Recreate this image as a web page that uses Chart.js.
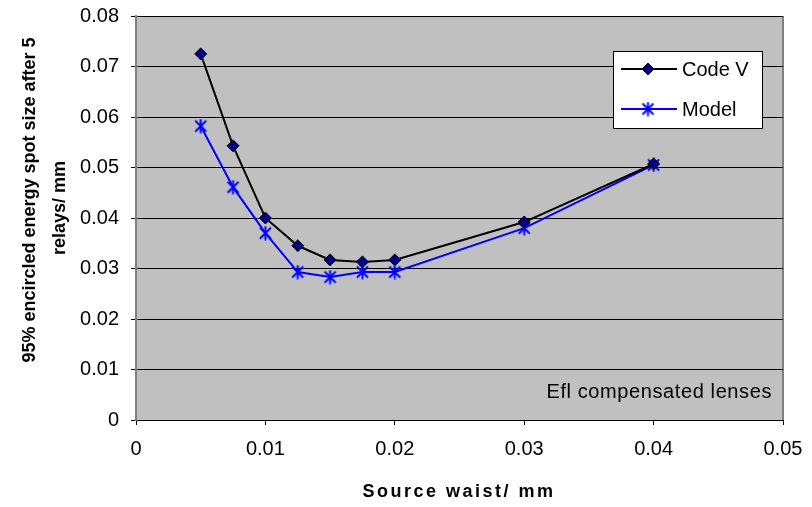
<!DOCTYPE html>
<html>
<head>
<meta charset="utf-8">
<script src="https://cdn.jsdelivr.net/npm/chart.js@4.4.1/dist/chart.umd.min.js"></script>
<style>
  html, body { margin: 0; padding: 0; background: #fff; }
  #wrap { width: 812px; height: 507px; }
</style>
</head>
<body>
<div id="wrap"><canvas id="chart"></canvas></div>
<script>
// source waist (mm) and spot size (mm)
const waist = [0.005, 0.0075, 0.01, 0.0125, 0.015, 0.0175, 0.02, 0.03, 0.04];
const codeV = [0.0725, 0.0543, 0.0400, 0.0345, 0.0317, 0.0313, 0.0317, 0.0392, 0.0507];
const model = [0.0582, 0.0461, 0.0370, 0.0293, 0.0283, 0.0293, 0.0293, 0.0380, 0.0505];
const seriesNames = ['Code V', 'Model'];

const FONT = '"Liberation Sans", Arial, sans-serif';

// asterisk marker for the model series
function makeAsterisk(size, color) {
  const c = document.createElement('canvas');
  c.width = size; c.height = size;
  const g = c.getContext('2d');
  g.strokeStyle = color;
  g.lineWidth = 2;
  const m = 2, h = size / 2;
  g.beginPath();
  g.moveTo(m, m); g.lineTo(size - m, size - m);
  g.moveTo(size - m, m); g.lineTo(m, size - m);
  g.moveTo(h, 0.5); g.lineTo(h, size - 0.5);
  g.stroke();
  return c;
}
const starImg = makeAsterisk(15, '#0000FF');

const toPoints = ys => waist.map((x, i) => ({x: x, y: ys[i]}));

const plotBack = {
  id: 'plotBack',
  beforeDraw(chart) {
    const {ctx, chartArea: a} = chart;
    ctx.save();
    ctx.fillStyle = '#C0C0C0';
    ctx.fillRect(a.left, a.top, a.right - a.left, a.bottom - a.top);
    ctx.strokeStyle = '#808080';
    ctx.lineWidth = 2;
    ctx.beginPath();
    ctx.moveTo(a.right, a.top);
    ctx.lineTo(a.right, a.bottom);
    ctx.stroke();
    ctx.restore();
  }
};

const extras = {
  id: 'extras',
  afterDraw(chart) {
    const {ctx} = chart;
    ctx.save();
    // axis titles
    ctx.fillStyle = '#000';
    ctx.textAlign = 'center';
    ctx.textBaseline = 'middle';
    ctx.font = 'bold 18px ' + FONT;
    ctx.letterSpacing = '2.5px';
    ctx.fillText('Source waist/ mm', 459, 492);
    ctx.letterSpacing = '0px';
    ctx.save();
    ctx.translate(30, 200);
    ctx.rotate(-Math.PI / 2);
    ctx.fillText('95% encircled energy spot size after 5', 0, 0);
    ctx.restore();
    ctx.save();
    ctx.translate(60, 208);
    ctx.rotate(-Math.PI / 2);
    ctx.fillText('relays/ mm', 0, 0);
    ctx.restore();

    // note inside the plot
    ctx.font = '20px ' + FONT;
    ctx.textAlign = 'right';
    ctx.letterSpacing = '0.6px';
    ctx.fillText('Efl compensated lenses', 772, 392);
    ctx.letterSpacing = '0px';

    // legend box
    const bx = 613.5, by = 51.5, bw = 149, bh = 77;
    ctx.fillStyle = '#fff';
    ctx.fillRect(bx, by, bw, bh);
    ctx.strokeStyle = '#000';
    ctx.lineWidth = 1;
    ctx.strokeRect(bx, by, bw, bh);

    const rows = [69, 109];
    const colors = ['#000000', '#0000FF'];
    rows.forEach((y, i) => {
      ctx.strokeStyle = colors[i];
      ctx.lineWidth = 2;
      ctx.beginPath();
      ctx.moveTo(621, y);
      ctx.lineTo(677, y);
      ctx.stroke();
      if (i === 0) {
        ctx.beginPath();
        ctx.moveTo(648, y - 6); ctx.lineTo(654, y); ctx.lineTo(648, y + 6); ctx.lineTo(642, y);
        ctx.closePath();
        ctx.fillStyle = '#000080';
        ctx.fill();
        ctx.lineWidth = 1;
        ctx.strokeStyle = '#000';
        ctx.stroke();
      } else {
        ctx.drawImage(starImg, 648 - 7.5, y - 7.5);
      }
      ctx.fillStyle = '#000';
      ctx.font = '20px ' + FONT;
      ctx.textAlign = 'left';
      ctx.fillText(seriesNames[i], 682, y + 1);
    });
    ctx.restore();
  }
};

const fmt = v => v === 0 ? '0' : String(+v.toFixed(2));

new Chart(document.getElementById('chart'), {
  type: 'line',
  data: {
    datasets: [{
      label: seriesNames[0],
      data: toPoints(codeV),
      borderColor: '#000000',
      borderWidth: 2,
      pointStyle: 'rectRot',
      pointRadius: 6,
      pointBackgroundColor: '#000080',
      pointBorderColor: '#000000',
      pointBorderWidth: 1,
      tension: 0
    }, {
      label: seriesNames[1],
      data: toPoints(model),
      borderColor: '#0000FF',
      borderWidth: 2,
      pointStyle: starImg,
      pointRadius: 7,
      tension: 0
    }]
  },
  options: {
    responsive: true,
    maintainAspectRatio: false,
    animation: false,
    layout: { padding: { left: 0, right: 29, top: 16, bottom: 0 } },
    plugins: {
      legend: { display: false },
      tooltip: { enabled: false }
    },
    scales: {
      x: {
        type: 'linear',
        min: 0, max: 0.05,
        afterFit: s => { s.height = 87; s.paddingLeft = 0; s.paddingRight = 0; },
        ticks: { stepSize: 0.01, callback: fmt, color: '#000', padding: 12, maxRotation: 0,
                 font: { family: FONT, size: 20 } },
        grid: { drawOnChartArea: false, drawTicks: true, tickLength: 5, color: '#000' },
        border: { color: '#000', width: 1 }
      },
      y: {
        min: 0, max: 0.08,
        afterFit: s => { s.width = 136; s.paddingTop = 0; s.paddingBottom = 0; },
        ticks: { stepSize: 0.01, callback: fmt, color: '#000', padding: 12,
                 font: { family: FONT, size: 20 } },
        grid: { color: '#000', lineWidth: 1, tickLength: 5, tickColor: '#000' },
        border: { color: '#808080', width: 2 }
      }
    }
  },
  plugins: [plotBack, extras]
});
</script>
</body>
</html>
